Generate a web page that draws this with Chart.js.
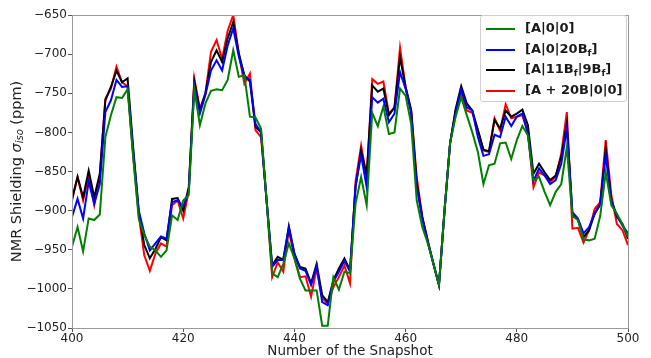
<!DOCTYPE html>
<html>
<head>
<meta charset="utf-8">
<script src="https://cdn.jsdelivr.net/npm/chart.js@4/dist/chart.umd.min.js"></script>
<style>
  body { margin: 0; background: #fff; overflow: hidden; }
  #wrap { position: relative; width: 651px; height: 358px; }
  #leyenda {
    position: absolute; left: 480px; top: 15px; width: 145px; height: 85px;
    border: 1px solid #d0d0d0; border-radius: 3px; background: rgba(255,255,255,0.85);
    font-family: "DejaVu Sans", sans-serif; font-weight: bold; font-size: 13px; color: #1a1a1a;
  }
  .fila { position: absolute; left: 0; height: 20px; line-height: 20px; white-space: nowrap; }
  .fila span.linea { position: absolute; left: 5px; top: 10px; width: 29px; height: 2px; }
  .fila span.txt { position: absolute; left: 44px; top: 0; }
  sub { font-size: 9px; vertical-align: -3px; line-height: 0; }
</style>
</head>
<body>
<div id="wrap">
  <canvas id="grafica" width="651" height="358"></canvas>
  <div id="leyenda"></div>
</div>
<script>
const inicio = 400;
const fin = 500;
const snapshots = Array.from({ length: fin - inicio + 1 }, (_, i) => inicio + i);

const serieA00 = [
  -946, -921, -952, -910, -912, -905, -806, -778, -755, -756,
  -745, -831, -910, -931, -946, -951, -959, -951, -906, -912,
  -887, -880, -745, -791, -763, -747, -745, -746, -733, -695,
  -729, -727, -780, -781, -795, -887, -980, -985, -968, -942,
  -961, -987, -1002, -1002, -1002, -1047, -1047, -985, -1001, -978,
  -980, -891, -857, -893, -775, -792, -767, -802, -800, -744,
  -753, -789, -887, -921, -942, -968, -995, -900, -814, -780,
  -755, -778, -800, -825, -866, -842, -840, -814, -813, -834,
  -810, -792, -804, -861, -857, -876, -893, -876, -866, -819,
  -907, -912, -937, -938, -936, -907, -851, -893, -904, -917,
  -934
];
const serieA020 = [
  -908, -885, -910, -863, -891, -866, -774, -759, -733, -742,
  -741, -825, -900, -929, -951, -942, -933, -936, -889, -887,
  -895, -875, -740, -776, -752, -721, -708, -721, -689, -667,
  -703, -729, -733, -789, -800, -887, -972, -963, -963, -922,
  -955, -974, -977, -995, -971, -1017, -1021, -991, -978, -964,
  -978, -868, -829, -870, -755, -762, -757, -787, -776, -723,
  -744, -775, -870, -910, -940, -968, -995, -900, -814, -775,
  -745, -768, -772, -806, -830, -828, -803, -806, -780, -792,
  -780, -776, -801, -862, -846, -855, -866, -861, -840, -795,
  -902, -910, -929, -921, -904, -892, -829, -887, -906, -919,
  -929
];
const serieA119 = [
  -885, -857, -883, -849, -883, -853, -759, -742, -721, -736,
  -731, -819, -900, -944, -961, -949, -934, -938, -885, -884,
  -900, -870, -735, -772, -750, -710, -695, -710, -680, -659,
  -699, -727, -735, -793, -800, -887, -970, -959, -963, -920,
  -955, -972, -974, -993, -968, -1008, -1017, -989, -974, -961,
  -976, -870, -823, -855, -740, -748, -744, -778, -768, -704,
  -742, -772, -865, -908, -940, -968, -995, -900, -814, -770,
  -741, -763, -772, -797, -822, -824, -784, -795, -772, -780,
  -776, -771, -791, -853, -840, -851, -861, -855, -831, -789,
  -904, -912, -934, -925, -904, -892, -821, -887, -908, -917,
  -936
];
const serieA20B = [
  -887, -857, -887, -855, -893, -855, -757, -744, -716, -736,
  -741, -830, -905, -957, -977, -955, -942, -946, -893, -887,
  -910, -875, -731, -770, -750, -697, -682, -706, -670, -650,
  -699, -738, -725, -797, -806, -887, -985, -966, -978, -925,
  -961, -985, -984, -1010, -974, -1012, -1019, -998, -985, -970,
  -993, -863, -817, -857, -732, -738, -735, -776, -768, -692,
  -742, -772, -857, -908, -938, -968, -995, -900, -814, -772,
  -750, -772, -775, -797, -823, -825, -782, -798, -764, -782,
  -780, -778, -801, -870, -851, -855, -863, -857, -827, -774,
  -923, -922, -941, -925, -898, -889, -810, -880, -917, -925,
  -944
];

const nombres = ["[A|0|0]", "[A|0|20B<sub>f</sub>]", "[A|11B<sub>f</sub>|9B<sub>f</sub>]", "[A + 20B|0|0]"];
const colores = ["#008000", "#0000ff", "#000000", "#ff0000"];
const series = [serieA00, serieA020, serieA119, serieA20B];

const ticksX = [400, 420, 440, 460, 480, 500];
const ticksY = [-1050, -1000, -950, -900, -850, -800, -750, -700, -650];

const datasets = series.map((s, i) => ({
  label: nombres[i],
  data: s.map((v, j) => ({ x: snapshots[j], y: v })),
  borderColor: colores[i],
  borderWidth: 2,
  pointRadius: 0,
  tension: 0,
  fill: false
}));

// marco completo y titulo del eje y con subindice
const marco = {
  id: "marco",
  afterDraw(chart) {
    const { ctx, chartArea: a } = chart;
    ctx.save();
    ctx.strokeStyle = "#999";
    ctx.lineWidth = 1;
    ctx.strokeRect(a.left + 0.5, a.top + 0.5, a.right - a.left, a.bottom - a.top);

    ctx.translate(17, (a.top + a.bottom) / 2);
    ctx.rotate(-Math.PI / 2);
    ctx.fillStyle = "#222";
    ctx.textBaseline = "middle";
    const partes = [
      { t: "NMR Shielding ", f: "14.5px 'DejaVu Sans'", dy: 0 },
      { t: "σ", f: "italic 14.5px 'DejaVu Sans'", dy: 0 },
      { t: "iso", f: "italic 10px 'DejaVu Sans'", dy: 3.5 },
      { t: " (ppm)", f: "14.5px 'DejaVu Sans'", dy: 0 }
    ];
    let total = 0;
    partes.forEach(p => { ctx.font = p.f; total += ctx.measureText(p.t).width; });
    let x = -total / 2;
    partes.forEach(p => {
      ctx.font = p.f;
      ctx.fillText(p.t, x, p.dy);
      x += ctx.measureText(p.t).width;
    });
    ctx.restore();
  }
};

new Chart(document.querySelector("#grafica"), {
  type: "line",
  data: { datasets },
  options: {
    responsive: false,
    animation: false,
    layout: { padding: { top: 15, right: 23, bottom: 0, left: 0 } },
    plugins: { legend: { display: false }, tooltip: { enabled: false } },
    scales: {
      x: {
        type: "linear",
        min: 400, max: 500,
        afterBuildTicks: s => { s.ticks = ticksX.map(v => ({ value: v })); },
        afterFit: s => { s.height = 30; },
        grid: { display: true, drawOnChartArea: false, drawTicks: true, tickLength: 4, color: "#555" },
        border: { display: false },
        ticks: { color: "#222", font: { family: "DejaVu Sans", size: 12 }, padding: 0, maxRotation: 0 },
        title: { display: true, text: "Number of the Snapshot", color: "#222",
                 font: { family: "DejaVu Sans", size: 13.5, lineHeight: 0.9 }, padding: { top: 0, bottom: 0 } }
      },
      y: {
        min: -1050, max: -650,
        afterBuildTicks: s => { s.ticks = ticksY.map(v => ({ value: v })); },
        afterFit: s => { s.width = 72; },
        grid: { display: true, drawOnChartArea: false, drawTicks: true, tickLength: 4, color: "#555" },
        border: { display: false },
        ticks: { color: "#222", font: { family: "DejaVu Sans", size: 12 }, padding: 1,
                 callback: v => String(v).replace("-", "\u2212") }
      }
    }
  },
  plugins: [marco]
});

// leyenda en HTML para poder usar subindices
const leyenda = document.querySelector("#leyenda");
nombres.forEach((n, i) => {
  const fila = document.createElement("div");
  fila.className = "fila";
  fila.style.top = (2 + i * 20.7) + "px";
  fila.innerHTML = `<span class="linea" style="background:${colores[i]}"></span><span class="txt">${n}</span>`;
  leyenda.appendChild(fila);
});
</script>
</body>
</html>
